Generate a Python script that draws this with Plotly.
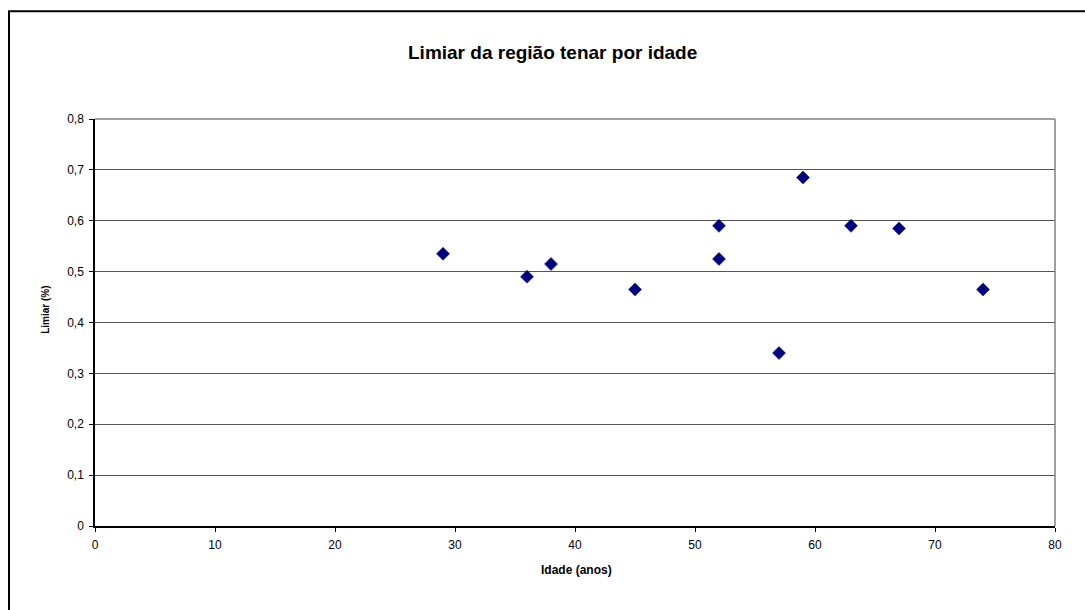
import plotly.graph_objects as go

idade = [29, 36, 38, 45, 52, 52, 57, 59, 63, 67, 74]
limiar = [0.535, 0.49, 0.515, 0.465, 0.59, 0.525, 0.34, 0.685, 0.59, 0.585, 0.465]

title_text = "Limiar da região tenar por idade"
x_title = "Idade (anos)"
y_title = "Limiar (%)"

W, H = 1085, 610
L, R, T, B = 95, 30, 119, 83.5
pw, ph = W - L - R, H - T - B

def px_x(p):
    return (p - L) / pw

def px_y(p):
    return (H - B - p) / ph

FAM = "Liberation Sans, Arial, sans-serif"

fig = go.Figure()
fig.add_trace(go.Scatter(
    x=idade, y=limiar, mode="markers",
    marker=dict(symbol="diamond", size=10, color="#000080",
                line=dict(width=0.5, color="#000080")),
    showlegend=False, cliponaxis=False,
))

fig.update_layout(
    width=W, height=H,
    margin=dict(l=L, r=R, t=T, b=B, pad=0),
    paper_bgcolor="white", plot_bgcolor="white",
    separators=", ",
    font=dict(size=12, family=FAM, color="#000000"),
    xaxis=dict(range=[0, 80], dtick=10, tick0=0, showgrid=False, zeroline=False,
               showline=True, linecolor="black", linewidth=1.5,
               ticks="outside", ticklen=4, tickcolor="black", tickwidth=1,
               ticklabelstandoff=3,
               tickfont=dict(size=12, family=FAM, color="#000000")),
    yaxis=dict(range=[0, 0.8], dtick=0.1, tick0=0, showgrid=True,
               gridcolor="#555555", gridwidth=1, zeroline=False,
               showline=True, linecolor="black", linewidth=1.5,
               ticks="outside", ticklen=4, tickcolor="black", tickwidth=1,
               ticklabelstandoff=3,
               tickfont=dict(size=12, family=FAM, color="#000000")),
    shapes=[
        dict(type="line", xref="paper", yref="paper", x0=0, x1=1, y0=1, y1=1,
             line=dict(color="#808080", width=1.5)),
        dict(type="line", xref="paper", yref="paper", x0=1, x1=1, y0=0, y1=1,
             line=dict(color="#808080", width=1.5)),
        dict(type="rect", xref="paper", yref="paper",
             x0=px_x(9), x1=px_x(1100), y0=px_y(11), y1=px_y(625),
             line=dict(color="black", width=2), fillcolor="rgba(0,0,0,0)",
             layer="above"),
    ],
    annotations=[
        dict(text="<b>" + title_text + "</b>", xref="paper", yref="paper",
             x=px_x(552.5), y=px_y(52), showarrow=False,
             xanchor="center", yanchor="middle",
             font=dict(size=19, family=FAM, color="#000000")),
        dict(text="<b>" + x_title + "</b>", xref="paper", yref="paper",
             x=px_x(576), y=px_y(571), showarrow=False,
             xanchor="center", yanchor="middle",
             font=dict(size=12, family=FAM, color="#000000")),
        dict(text="<b>" + y_title + "</b>", xref="paper", yref="paper",
             x=px_x(46), y=px_y(310), showarrow=False, textangle=-90,
             xanchor="center", yanchor="middle",
             font=dict(size=10, family=FAM, color="#000000")),
    ],
)

fig.write_html("out.html")
